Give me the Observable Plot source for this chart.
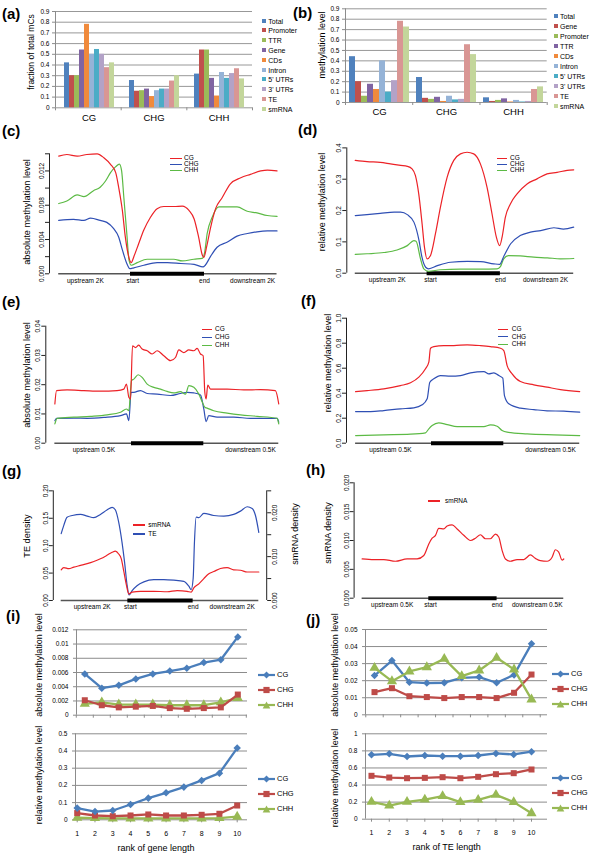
<!DOCTYPE html>
<html><head><meta charset="utf-8">
<script src="https://cdn.jsdelivr.net/npm/d3@7"></script>
<script src="https://cdn.jsdelivr.net/npm/@observablehq/plot@0.6"></script>
<style>
body{margin:0;background:#fff;}
#root{position:relative;width:600px;height:863px;overflow:hidden;font-family:"Liberation Sans",Arial,sans-serif;color:#000;background:#fff;}
</style></head><body><div id="root"></div>
<script>
// ---------------- DATA ----------------
const contexts = ["CG", "CHG", "CHH"];
// (a) fraction of total mCs
const aRegions = ["Total", "Promoter", "TTR", "Gene", "CDs", "Intron", "5' UTRs", "3' UTRs", "TE", "smRNA"];
const aCG  = [0.42, 0.30, 0.30, 0.54, 0.78, 0.50, 0.545, 0.50, 0.375, 0.42];
const aCHG = [0.255, 0.155, 0.16, 0.175, 0.105, 0.16, 0.175, 0.175, 0.25, 0.30];
const aCHH = [0.315, 0.54, 0.54, 0.275, 0.11, 0.33, 0.275, 0.32, 0.365, 0.27];
const barTicks = [0, 0.1, 0.2, 0.3, 0.4, 0.5, 0.6, 0.7, 0.8, 0.9];
// (b) methylation level
const bRegions = ["Total", "Gene", "Promoter", "TTR", "CDs", "Intron", "5' UTRs", "3' UTRs", "TE", "smRNA"];
const bCG  = [0.44, 0.20, 0.06, 0.175, 0.125, 0.40, 0.10, 0.21, 0.78, 0.725];
const bCHG = [0.24, 0.04, 0.03, 0.05, 0.01, 0.06, 0.025, 0.03, 0.555, 0.46];
const bCHH = [0.045, 0.01, 0.02, 0.035, 0.005, 0.02, 0.005, 0.01, 0.125, 0.15];

// profiles: [position bin (start = 100, end = 200), value]
const cCG = [[3,0.01373],[14,0.01392],[28,0.01373],[41,0.01392],[55,0.0140],[64,0.01354],[73,0.01277],[80,0.0118],[84,0.0101],[89,0.0074],[93,0.0043],[97,0.0022],[101,0.0013],[104.5,0.0020],[111,0.0035],[118,0.0051],[127,0.0066],[136,0.0076],[145,0.00785],[159,0.00785],[170,0.0079],[179,0.0074],[186,0.0064],[192,0.0043],[197,0.0022],[199,0.0019],[203,0.0032],[208,0.0053],[215,0.0076],[224,0.0089],[235,0.0105],[249,0.0112],[262,0.0116],[276,0.0120],[285,0.0121],[298,0.0120]];
const cCHG = [[3,0.00623],[23,0.00635],[37,0.00623],[46,0.0065],[59,0.00623],[68,0.0060],[77,0.0053],[84,0.0043],[89,0.0028],[95,0.0012],[99,0.0006],[104.5,0.0007],[118,0.0010],[136,0.0013],[150,0.0013],[168,0.0012],[186,0.0011],[198,0.0008],[201,0.0010],[208,0.0020],[217,0.0031],[231,0.0037],[244,0.0044],[258,0.0047],[271,0.0049],[285,0.0050],[298,0.0050]];
const cCHH = [[3,0.0082],[14,0.0085],[28,0.0092],[37,0.0090],[50,0.0097],[59,0.0101],[66,0.0108],[73,0.0118],[80,0.0125],[85,0.0128],[88,0.0120],[91,0.0089],[95,0.0047],[98,0.0016],[101,0.0010],[109,0.0013],[122.5,0.0017],[140.5,0.0017],[158.6,0.0017],[170,0.0015],[185.6,0.0017],[197,0.0018],[200,0.0024],[203.6,0.0047],[210.4,0.0066],[219.4,0.0078],[230.6,0.0078],[244,0.0078],[257.7,0.0073],[271,0.0071],[284.7,0.0068],[298,0.0067]];

const dCG = [[2,0.360],[18,0.356],[36,0.354],[50,0.349],[64,0.344],[73,0.341],[79.5,0.333],[84,0.312],[88.6,0.253],[93.2,0.157],[96.4,0.083],[100,0.046],[104.5,0.056],[111.4,0.126],[118.2,0.211],[127.3,0.306],[136.4,0.360],[145.5,0.381],[154.5,0.386],[163.6,0.381],[172.7,0.349],[181.8,0.274],[188.6,0.189],[194.5,0.115],[199,0.088],[202.3,0.115],[206.8,0.179],[213.6,0.221],[222.7,0.253],[236.4,0.285],[250,0.301],[263.6,0.317],[277.3,0.322],[291,0.328],[300,0.330]];
const dCHG = [[2,0.184],[18,0.187],[36,0.191],[55,0.195],[64,0.195],[73,0.187],[82,0.163],[89,0.104],[93,0.051],[98,0.019],[102,0.014],[114,0.024],[132,0.035],[155,0.038],[173,0.037],[191,0.030],[199,0.028],[205,0.056],[214,0.094],[227,0.120],[241,0.131],[255,0.136],[273,0.145],[286,0.141],[300,0.147]];
const dCHH = [[2,0.060],[18,0.062],[41,0.066],[59,0.074],[73,0.088],[82,0.104],[85,0.102],[91,0.046],[95.5,0.014],[102,0.006],[118,0.011],[145,0.013],[173,0.013],[195.5,0.014],[200,0.021],[204.5,0.046],[211,0.056],[227,0.055],[245.5,0.051],[264,0.049],[282,0.046],[300,0.047]];

const eCG = [[-6,0.0134],[-3.7,0.018],[11,0.0182],[34,0.018],[57,0.0178],[80,0.018],[89.4,0.0185],[93,0.0202],[96.3,0.0157],[98.6,0.0151],[101.4,0.0333],[105.5,0.0327],[110,0.0335],[114.7,0.0322],[121.7,0.0316],[128.6,0.0305],[135.5,0.0316],[144.7,0.0299],[153.9,0.0282],[160.8,0.0293],[165.4,0.0319],[172.4,0.0310],[179.3,0.0319],[186.2,0.0316],[190.8,0.0324],[195.4,0.0305],[199.1,0.0299],[201.4,0.0174],[203.2,0.0151],[205.5,0.0199],[209.2,0.0185],[232.3,0.0185],[255.3,0.0182],[278.3,0.0183],[299,0.018],[303.7,0.0134]];
const eCHG = [[-6,0.0077],[-3.7,0.0085],[20.3,0.0086],[38.7,0.0085],[61.8,0.0088],[84.8,0.0094],[93.1,0.0100],[96.3,0.0077],[99.5,0.0174],[103.2,0.0174],[112.4,0.018],[121.7,0.0170],[135.5,0.0168],[153.9,0.0163],[167.7,0.0170],[177,0.0174],[186.2,0.0172],[195.4,0.0165],[200,0.0117],[203.2,0.0074],[206.9,0.0094],[218.4,0.0089],[241.5,0.0089],[264.5,0.0085],[287.6,0.0085],[301.4,0.0085],[303.7,0.0072]];
const eCHH = [[-6,0.0066],[-2.8,0.0085],[20.3,0.0089],[43.3,0.0092],[66.4,0.0097],[84.8,0.0106],[93.1,0.0117],[96.3,0.0111],[100,0.0214],[103.2,0.0219],[109.2,0.0234],[114.7,0.0225],[121.7,0.0202],[130.9,0.0191],[140.1,0.0185],[149.3,0.0177],[158.5,0.0172],[167.7,0.0176],[174.7,0.0168],[179.3,0.0197],[186.2,0.0191],[193.1,0.0168],[197.7,0.0142],[201.4,0.0123],[204.6,0.0120],[213.8,0.0111],[232.3,0.0103],[250.7,0.0097],[273.7,0.0092],[301.4,0.0085],[303.7,0.0066]];

const fCG = [[-5,0.413],[11,0.421],[34,0.435],[57,0.461],[71,0.483],[82.5,0.528],[91.7,0.595],[96.3,0.648],[98.6,0.760],[103.2,0.773],[117,0.781],[130.9,0.781],[149.3,0.787],[167.7,0.781],[181.6,0.773],[195.4,0.760],[200,0.741],[204.6,0.621],[211.5,0.555],[223,0.493],[241.5,0.467],[259.9,0.448],[278.3,0.429],[305,0.413]];
const fCHG = [[-5,0.253],[15.7,0.253],[34,0.261],[57,0.275],[75.6,0.283],[87.1,0.307],[94,0.355],[97.7,0.488],[103.2,0.515],[112.4,0.541],[126.3,0.536],[140.1,0.541],[153.9,0.563],[172.4,0.573],[179.3,0.555],[186.2,0.563],[193.1,0.541],[198.6,0.520],[200.9,0.381],[206.9,0.315],[223,0.280],[241.5,0.269],[259.9,0.259],[283,0.256],[305,0.248]];
const fCHH = [[-5,0.061],[34,0.067],[71,0.072],[91.7,0.083],[96.3,0.115],[100.9,0.141],[110,0.163],[121.7,0.149],[135.5,0.133],[153.9,0.133],[172.4,0.133],[181.6,0.147],[190.8,0.136],[197.7,0.101],[204.6,0.088],[232.3,0.075],[269.1,0.067],[305,0.061]];

const gTE = [[-2,0.122],[2,0.137],[7,0.152],[15,0.155],[27.6,0.157],[37.8,0.154],[48,0.151],[58,0.157],[68,0.165],[76,0.170],[81,0.165],[86,0.143],[91,0.107],[95,0.070],[99,0.027],[102,0.010],[106.6,0.018],[114,0.027],[124.5,0.034],[139.8,0.038],[155,0.038],[170.4,0.037],[185.7,0.035],[193.4,0.026],[197,0.020],[200,0.040],[202,0.107],[204.6,0.152],[208.7,0.151],[216.3,0.159],[231.6,0.155],[247,0.154],[262,0.157],[272.4,0.163],[282.7,0.171],[290.3,0.168],[295.4,0.155],[300.5,0.124]];
const gSmRNA = [[-2,0.0070],[2,0.0075],[9.7,0.00725],[17.3,0.0076],[27.6,0.0080],[37.8,0.0084],[48,0.0089],[58,0.0095],[68,0.0103],[76,0.0110],[81,0.01125],[86,0.0106],[90,0.0095],[94,0.0065],[98,0.0034],[101.5,0.0015],[106.6,0.0019],[119.4,0.0021],[139.8,0.0021],[160.2,0.0020],[175.5,0.00225],[190.8,0.0021],[197,0.0019],[201,0.0029],[208.7,0.0038],[216.3,0.0050],[224,0.0061],[231.6,0.0066],[241.8,0.0073],[252,0.0075],[262,0.0070],[272.4,0.0069],[282.7,0.0065],[292.9,0.0065],[300.5,0.0065]];
const hSmRNA = [[2.4,0.00682],[19.5,0.0067],[34.1,0.0067],[51.2,0.0064],[68.3,0.0068],[82.9,0.0068],[92.7,0.0074],[100,0.0094],[104.9,0.0104],[109.8,0.0109],[114.6,0.0121],[122,0.0120],[126.8,0.0125],[134.1,0.0127],[141.5,0.0120],[151.2,0.0109],[161,0.0100],[168.3,0.0104],[175.6,0.0110],[182.9,0.0103],[190.2,0.0103],[197.6,0.0111],[202.4,0.0106],[207.3,0.0083],[212.2,0.0068],[219.5,0.0064],[229.3,0.0067],[239,0.0067],[248.8,0.0075],[256.1,0.0069],[263.4,0.0065],[273.2,0.0064],[280.5,0.0071],[285.4,0.0084],[290.2,0.0080],[295.1,0.0066],[297.6,0.0068]];

const labels2K = ["upstream 2K", "start", "end", "downstream 2K"];
const labels05K = ["upstream 0.5K", "downstream 0.5K"];
const labels05Kse = ["upstream 0.5K", "start", "end", "downstream 0.5K"];

// (i), (j) rank of length
const ranks = [1, 2, 3, 4, 5, 6, 7, 8, 9, 10];
const iAbsCG  = [0.0058, 0.0038, 0.0042, 0.0051, 0.0058, 0.0062, 0.0066, 0.0074, 0.0078, 0.0110];
const iAbsCHG = [0.0021, 0.0014, 0.0011, 0.0012, 0.0013, 0.0010, 0.0009, 0.0010, 0.0011, 0.0029];
const iAbsCHH = [0.0016, 0.0018, 0.0015, 0.0015, 0.0015, 0.0014, 0.0014, 0.0014, 0.0018, 0.0024];
const iRelCG  = [0.068, 0.048, 0.054, 0.089, 0.126, 0.157, 0.19, 0.229, 0.271, 0.417];
const iRelCHG = [0.039, 0.025, 0.021, 0.025, 0.031, 0.025, 0.025, 0.029, 0.035, 0.083];
const iRelCHH = [0.012, 0.010, 0.008, 0.008, 0.008, 0.008, 0.008, 0.008, 0.010, 0.018];
const jAbsCG  = [0.023, 0.0318, 0.0191, 0.0186, 0.0188, 0.0217, 0.0221, 0.0188, 0.0234, 0.0416];
const jAbsCHG = [0.0133, 0.0156, 0.0109, 0.0104, 0.0098, 0.0104, 0.0104, 0.0098, 0.0129, 0.0236];
const jAbsCHH = [0.0275, 0.0197, 0.0254, 0.0279, 0.0328, 0.0227, 0.026, 0.0334, 0.0266, 0.009];
const jRelCG  = [0.754, 0.766, 0.734, 0.746, 0.738, 0.738, 0.746, 0.77, 0.758, 0.79];
const jRelCHG = [0.508, 0.488, 0.48, 0.484, 0.492, 0.48, 0.496, 0.527, 0.539, 0.582];
const jRelCHH = [0.203, 0.16, 0.203, 0.23, 0.27, 0.2, 0.227, 0.285, 0.2, 0.07];
const iAbsTicks = [0, 0.002, 0.004, 0.006, 0.008, 0.01, 0.012];
const iRelTicks = [0, 0.1, 0.2, 0.3, 0.4, 0.5];
const jAbsTicks = [0, 0.01, 0.02, 0.03, 0.04, 0.05];
const jRelTicks = [0, 0.2, 0.4, 0.6, 0.8, 1];

// ---------------- STYLE ----------------
const root = document.getElementById("root");
const FONT = "'Liberation Sans', Arial, sans-serif";
const GRID = "#8c8c8c";
const RED = "#ec2227", BLUE = "#2f4fb4", GREEN = "#5cba45";
const XL = {CG: "#4a7ebb", CHG: "#be4b48", CHH: "#98b954"};
const XLSYM = {CG: "diamond2", CHG: "square", CHH: "triangle"};
const XLR = {CG: 3.4, CHG: 3.4, CHH: 3.8};
const barColors = ["#4f81bd", "#c0504d", "#9bbb59", "#8064a2", "#f08a3c", "#95b3d7", "#4bacc6", "#b3a2c7", "#d99694", "#c3d69b"];
const baseStyle = (fs) => ({fontFamily: FONT, fontSize: fs + "px", background: "transparent", color: "#000", overflow: "visible"});

function place(node, left, top) {
  node.style.position = "absolute";
  node.style.left = left + "px";
  node.style.top = top + "px";
  root.appendChild(node);
  return node;
}
function label(str, x, y, o = {}) {
  const d = document.createElement("div");
  d.textContent = str;
  const size = o.size || 7;
  d.style.cssText = `position:absolute;left:${x}px;top:${y}px;font-size:${size}px;line-height:1;white-space:nowrap;font-family:${FONT};` + (o.bold ? "font-weight:bold;" : "");
  if (o.rotate) d.style.transform = "translate(-50%,-50%) rotate(-90deg)";
  else if (o.anchor === "middle") d.style.transform = "translate(-50%,-50%)";
  else if (o.anchor === "top") d.style.transform = "none";
  else d.style.transform = "translate(0,-50%)";
  root.appendChild(d);
}
function box(x, y, w, h, color) {
  const d = document.createElement("div");
  d.style.cssText = `position:absolute;left:${x}px;top:${y}px;width:${w}px;height:${h}px;background:${color};`;
  root.appendChild(d);
}
function margins(bx, fr) {
  return {marginLeft: fr.x0 - bx.x, marginRight: bx.x + bx.w - fr.x1, marginTop: fr.y0 - bx.y, marginBottom: bx.y + bx.h - fr.y1};
}

// ---------------- BAR PANELS ----------------
function barPanel({bx, fr, regions, values, pad}) {
  const rows = [];
  contexts.forEach((c, ci) => regions.forEach((r, ri) => rows.push({context: c, region: r, value: values[ci][ri]})));
  const m = margins(bx, fr);
  const bg = Plot.plot({
    width: bx.w, height: bx.h, ...m, style: baseStyle(6.5),
    x: {domain: [0, 3]}, y: {domain: [0, 0.9]},
    marks: [
      Plot.ruleY(barTicks, {stroke: GRID, strokeWidth: 0.9}),
      Plot.ruleX([0], {stroke: GRID}),
      Plot.axisY({ticks: barTicks, tickFormat: d => String(d), tickSize: 3, tickPadding: 3, stroke: GRID, fontSize: 6.5, label: null}),
      Plot.axisX({ticks: [0, 1, 2, 3], tickFormat: () => "", tickSize: 3, stroke: GRID, label: null})
    ]
  });
  place(bg, bx.x, bx.y);
  const fg = Plot.plot({
    width: bx.w, height: bx.h, ...m, style: baseStyle(9.5),
    facet: {data: rows, x: "context"},
    fx: {domain: contexts, paddingInner: pad, paddingOuter: pad / 2, label: null, axis: "bottom", tickSize: 0, tickPadding: 6},
    x: {domain: regions, padding: 0, axis: null},
    y: {domain: [0, 0.9], axis: null},
    color: {domain: regions, range: barColors},
    marks: [Plot.barY(rows, {x: "region", y: "value", fill: "region"})]
  });
  place(fg, bx.x, bx.y);
}

// ---------------- R-STYLE PROFILE PANELS ----------------
function rPanel(c) {
  const {bx, fr, xmap, ymap, yTicks, yLabeled, yDigits, xTicks, xLabels, series, showX = true, anchor = "left"} = c;
  const xDomain = [(fr.x0 - xmap.a) / xmap.b, (fr.x1 - xmap.a) / xmap.b];
  const yDomain = [(ymap.c - fr.y1) / ymap.d, (ymap.c - fr.y0) / ymap.d];
  const xExt = d3.extent(series.flatMap(s => s.data.map(d => d[0])));
  const marks = [];
  if (showX) {
    marks.push(Plot.ruleY([0], {x1: xExt[0], x2: xExt[1], stroke: "#555", strokeWidth: 1.4}));
    marks.push(Plot.ruleY([0], {x1: 100, x2: 200, stroke: "#000", strokeWidth: 4}));
    marks.push(Plot.axisX({ticks: xTicks, tickFormat: d => xLabels[xTicks.indexOf(d)], tickSize: 0, tickPadding: 4.3, fontSize: 6.5, label: null}));
  }
  marks.push(Plot.ruleX([anchor === "left" ? xDomain[0] : xDomain[1]], {y1: yTicks[0], y2: yTicks[yTicks.length - 1], stroke: "#222"}));
  marks.push(Plot.axisY({anchor, ticks: yTicks, tickFormat: d => yLabeled.includes(d) ? d.toFixed(yDigits) : "",
    tickSize: 4, tickPadding: 1.5, tickRotate: -90, textAnchor: "middle", lineAnchor: anchor === "left" ? "bottom" : "top",
    fontSize: 6.5, stroke: "#222", label: null}));
  for (const s of series) marks.push(Plot.line(s.data, {x: d => d[0], y: d => d[1], stroke: s.color, strokeWidth: 1.2, curve: "monotone-x"}));
  const svg = Plot.plot({
    width: bx.w, height: bx.h, ...margins(bx, fr), style: baseStyle(6.5),
    x: showX ? {domain: xDomain} : {domain: xDomain, axis: null},
    y: {domain: yDomain},
    marks
  });
  place(svg, bx.x, bx.y);
}

// ---------------- EXCEL LINE PANELS ----------------
function xlPanel({bx, fr, xDomain, yTicks, xTicks, xLabels, series}) {
  const marks = [
    Plot.ruleY(yTicks, {stroke: GRID, strokeWidth: 1}),
    Plot.ruleX([xDomain[0]], {stroke: GRID}),
    Plot.axisY({ticks: yTicks, tickFormat: d => String(d), tickSize: 3, tickPadding: 5, fontSize: 6.5, stroke: GRID, label: null}),
    Plot.axisX({ticks: xTicks, tickFormat: d => xLabels ? String(d) : "", tickSize: 3, tickPadding: 8, fontSize: 7, stroke: GRID, label: null})
  ];
  for (const s of series) {
    marks.push(Plot.line(s.values, {x: ranks, y: d => d, stroke: XL[s.name], strokeWidth: 2.3}));
    marks.push(Plot.dot(s.values, {x: ranks, y: d => d, symbol: XLSYM[s.name], r: XLR[s.name], fill: XL[s.name], stroke: "none"}));
  }
  const svg = Plot.plot({
    width: bx.w, height: bx.h, ...margins(bx, fr), style: baseStyle(6.5),
    x: {domain: xDomain}, y: {domain: [yTicks[0], yTicks[yTicks.length - 1]]},
    marks
  });
  place(svg, bx.x, bx.y);
}

// ---------------- LEGENDS ----------------
function lineLegend(items, x1, x2, tx, y0, step) {
  items.forEach(([name, color], i) => {
    const y = y0 + i * step;
    box(x1, y - 0.6, x2 - x1, 1.3, color);
    label(name, tx, y, {size: 6.5});
  });
}
function squareLegend(items, x, tx, y0, step) {
  items.forEach((name, i) => {
    const y = y0 + i * step;
    box(x, y - 2, 4, 4, barColors[i]);
    label(name, tx, y, {size: 7});
  });
}
function xlLegend(x, y0, step) {
  const paths = {
    CG: "M8.5,0.6 L12,4 L8.5,7.4 L5,4Z",
    CHG: "M5.4,0.9 H11.6 V7.1 H5.4Z",
    CHH: "M8.5,0.4 L12.3,7.4 H4.7Z"
  };
  ["CG", "CHG", "CHH"].forEach((n, i) => {
    const y = y0 + i * step;
    const ns = "http://www.w3.org/2000/svg";
    const s = document.createElementNS(ns, "svg");
    s.setAttribute("width", 17); s.setAttribute("height", 8);
    s.innerHTML = `<line x1="0" x2="17" y1="4" y2="4" stroke="${XL[n]}" stroke-width="2.2"/><path d="${paths[n]}" fill="${XL[n]}"/>`;
    place(s, x, y - 4);
    label(n, x + 19, y, {size: 7.5});
  });
}

// ---------------- BUILD ----------------
barPanel({bx: {x: 0, y: 0, w: 300, h: 130}, fr: {x0: 55, x1: 252, y0: 11, y1: 107.3}, regions: aRegions, values: [aCG, aCHG, aCHH], pad: 0.1});
barPanel({bx: {x: 300, y: 0, w: 300, h: 125}, fr: {x0: 345, x1: 546.7, y0: 8.3, y1: 102}, regions: bRegions, values: [bCG, bCHG, bCHH], pad: 0.11});
squareLegend(aRegions, 261.7, 268.3, 20.7, 9.78);
squareLegend(bRegions, 554, 560, 15.7, 10);
label("fraction of total mCs", 30.7, 52, {rotate: true, size: 8.5});
label("methylation level", 321.7, 45, {rotate: true, size: 9});

rPanel({bx: {x: 0, y: 140, w: 300, h: 150}, fr: {x0: 49, x1: 285, y0: 148, y1: 273.3}, xmap: {a: 56, b: 0.74}, ymap: {c: 273.3, d: 8571},
  yTicks: [0, 0.002, 0.004, 0.006, 0.008, 0.01, 0.012, 0.014], yLabeled: [0, 0.004, 0.008, 0.012], yDigits: 3,
  xTicks: [39, 103, 200, 265], xLabels: labels2K,
  series: [{data: cCHG, color: BLUE}, {data: cCHH, color: GREEN}, {data: cCG, color: RED}]});
rPanel({bx: {x: 300, y: 140, w: 300, h: 150}, fr: {x0: 346.3, x1: 585, y0: 145, y1: 272.7}, xmap: {a: 353.3, b: 0.733}, ymap: {c: 272.7, d: 313.3},
  yTicks: [0, 0.1, 0.2, 0.3, 0.4], yLabeled: [0, 0.1, 0.2, 0.3, 0.4], yDigits: 1,
  xTicks: [45.6, 104.6, 200, 261.5], xLabels: labels2K,
  series: [{data: dCHH, color: GREEN}, {data: dCHG, color: BLUE}, {data: dCG, color: RED}]});
rPanel({bx: {x: 0, y: 295, w: 300, h: 160}, fr: {x0: 45.3, x1: 290, y0: 323, y1: 442.7}, xmap: {a: 58.7, b: 0.723}, ymap: {c: 442.7, d: 2925},
  yTicks: [0, 0.01, 0.02, 0.03, 0.04], yLabeled: [0, 0.01, 0.02, 0.03, 0.04], yDigits: 2,
  xTicks: [47.9, 264.6], xLabels: labels05K,
  series: [{data: eCHG, color: BLUE}, {data: eCHH, color: GREEN}, {data: eCG, color: RED}]});
rPanel({bx: {x: 300, y: 295, w: 300, h: 160}, fr: {x0: 346, x1: 590, y0: 315, y1: 442.7}, xmap: {a: 358.7, b: 0.723}, ymap: {c: 442.7, d: 125},
  yTicks: [0, 0.2, 0.4, 0.6, 0.8, 1], yLabeled: [0, 0.2, 0.4, 0.6, 0.8, 1], yDigits: 1,
  xTicks: [43.3, 264.6], xLabels: labels05K,
  series: [{data: fCHH, color: GREEN}, {data: fCHG, color: BLUE}, {data: fCG, color: RED}]});
rPanel({bx: {x: 0, y: 455, w: 300, h: 160}, fr: {x0: 52.8, x1: 266.2, y0: 488, y1: 600}, xmap: {a: 62, b: 0.6533}, ymap: {c: 600, d: 548.3},
  yTicks: [0, 0.05, 0.1, 0.15, 0.2], yLabeled: [0, 0.05, 0.1, 0.15, 0.2], yDigits: 2,
  xTicks: [45.4, 104, 200, 259.7], xLabels: labels2K,
  series: [{data: gTE, color: BLUE}]});
rPanel({bx: {x: 0, y: 455, w: 300, h: 160}, fr: {x0: 52.8, x1: 266.2, y0: 488, y1: 600}, xmap: {a: 62, b: 0.6533}, ymap: {c: 600, d: 4386.4},
  yTicks: [0, 0.005, 0.01, 0.015, 0.02, 0.025], yLabeled: [0, 0.01, 0.02], yDigits: 3, showX: false, anchor: "right",
  series: [{data: gSmRNA, color: RED}]});
rPanel({bx: {x: 300, y: 455, w: 300, h: 160}, fr: {x0: 353.6, x1: 572, y0: 480, y1: 597.7}, xmap: {a: 360, b: 0.683}, ymap: {c: 597.7, d: 5770},
  yTicks: [0, 0.005, 0.01, 0.015, 0.02], yLabeled: [0, 0.005, 0.01, 0.015, 0.02], yDigits: 3,
  xTicks: [46.4, 102.5, 200, 258.7], xLabels: labels05Kse,
  series: [{data: hSmRNA, color: RED}]});

const cgSet = [["CG", RED], ["CHG", BLUE], ["CHH", GREEN]];
lineLegend(cgSet, 170, 182, 184, 158.3, 5.9);
lineLegend(cgSet, 497, 507, 510, 158.3, 5.9);
lineLegend(cgSet, 201.7, 211.7, 215, 329.3, 7.9);
lineLegend(cgSet, 498.3, 508.3, 511.7, 329.3, 7.4);
lineLegend([["smRNA", RED], ["TE", BLUE]], 133.3, 145, 148.3, 525, 9);
lineLegend([["smRNA", RED]], 428.3, 440, 445, 501, 0);

label("absolute methylation level", 28, 212, {rotate: true, size: 9.2});
label("relative methylation level", 321.7, 202, {rotate: true, size: 9});
label("absolute methylation level", 28, 375, {rotate: true, size: 9.2});
label("relative methylation level", 328, 363, {rotate: true, size: 9});
label("TE density", 28, 536, {rotate: true, size: 9.2});
label("smRNA density", 295, 534, {rotate: true, size: 9});
label("smRNA density", 328, 533, {rotate: true, size: 9});

const bounds = ranks.map(r => r - 0.5).concat([10.5]);
xlPanel({bx: {x: 0, y: 620, w: 300, h: 100}, fr: {x0: 76, x1: 247, y0: 629.3, y1: 714.7}, xDomain: [0.512, 10.57], yTicks: iAbsTicks, xTicks: bounds, xLabels: false,
  series: [{name: "CHH", values: iAbsCHH}, {name: "CHG", values: iAbsCHG}, {name: "CG", values: iAbsCG}]});
xlPanel({bx: {x: 0, y: 725, w: 300, h: 120}, fr: {x0: 75, x1: 247, y0: 733.3, y1: 819.3}, xDomain: [0.904, 10.58], yTicks: iRelTicks, xTicks: ranks, xLabels: true,
  series: [{name: "CHH", values: iRelCHH}, {name: "CHG", values: iRelCHG}, {name: "CG", values: iRelCG}]});
xlPanel({bx: {x: 300, y: 620, w: 300, h: 100}, fr: {x0: 365, x1: 547, y0: 629, y1: 714.3}, xDomain: [0.484, 10.917], yTicks: jAbsTicks, xTicks: bounds, xLabels: false,
  series: [{name: "CHG", values: jAbsCHG}, {name: "CG", values: jAbsCG}, {name: "CHH", values: jAbsCHH}]});
xlPanel({bx: {x: 300, y: 725, w: 300, h: 120}, fr: {x0: 365, x1: 547, y0: 733.3, y1: 818.7}, xDomain: [0.663, 10.9], yTicks: jRelTicks, xTicks: ranks, xLabels: true,
  series: [{name: "CHH", values: jRelCHH}, {name: "CHG", values: jRelCHG}, {name: "CG", values: jRelCG}]});
xlLegend(258, 675, 15);
xlLegend(258, 778.7, 15);
xlLegend(552, 674, 15.2);
xlLegend(552, 778.3, 15);
label("absolute methylation level", 39, 665, {rotate: true, size: 9});
label("relative methylation level", 39, 775, {rotate: true, size: 9});
label("rank of gene length", 156, 847.5, {anchor: "middle", size: 9});
label("absolute methylation level", 335, 665, {rotate: true, size: 9});
label("relative methylation level", 335, 778, {rotate: true, size: 9});
label("rank of TE length", 446.7, 847.3, {anchor: "middle", size: 9});

// panel letters
[["(a)", 2, 6.3], ["(b)", 293, 5.3], ["(c)", 2, 122.5], ["(d)", 298, 121.5], ["(e)", 2, 294], ["(f)", 301, 293],
 ["(g)", 2, 463], ["(h)", 306, 462], ["(i)", 6, 608], ["(j)", 306, 612]].forEach(([t, x, y]) => label(t, x, y, {anchor: "top", size: 15, bold: true}));
</script></body></html>
